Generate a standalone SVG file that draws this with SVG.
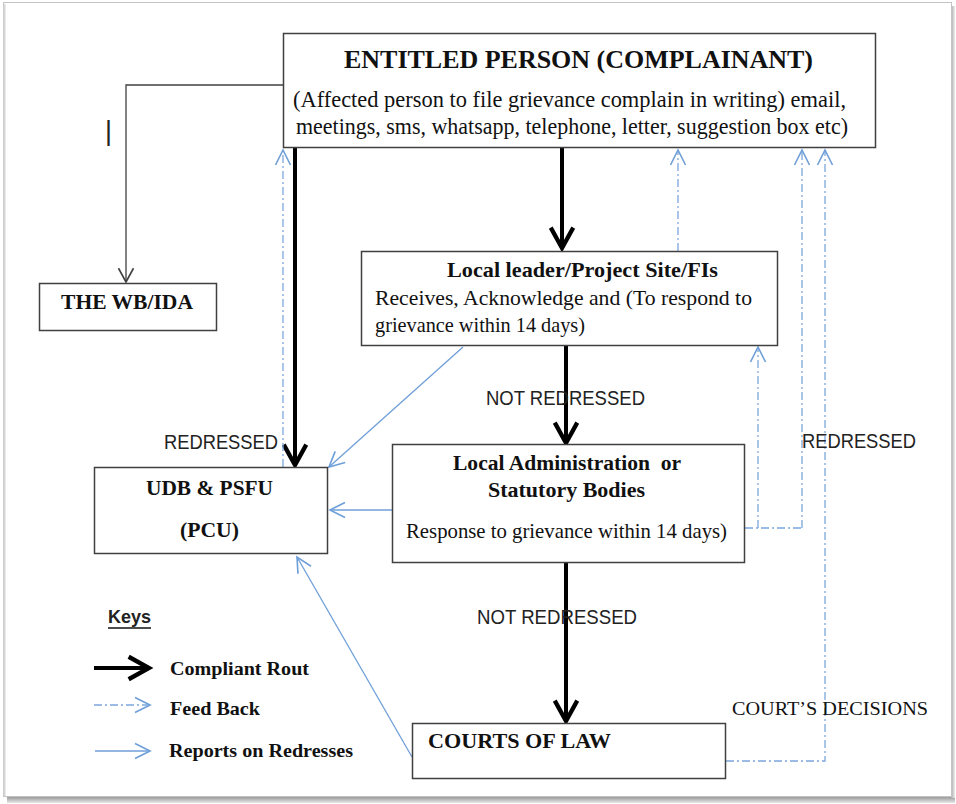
<svg xmlns="http://www.w3.org/2000/svg" width="956" height="804" viewBox="0 0 956 804">
<defs>
<style>
.box{fill:#fff;stroke:#404040;stroke-width:1.5}
.tb{font-family:"Liberation Serif","Times New Roman",serif;font-weight:bold;fill:#111}
.tr{font-family:"Liberation Serif","Times New Roman",serif;fill:#111}
.sa{font-family:"Liberation Sans",Arial,sans-serif;fill:#222}
.thick{fill:none;stroke:#000;stroke-width:4;marker-end:url(#mThick)}
.thin{fill:none;stroke:#404040;stroke-width:1.3;marker-end:url(#mThin)}
.rep{fill:none;stroke:#6f9fd8;stroke-width:1.3;marker-end:url(#mBlue)}
.fb{fill:none;stroke:#7ba7dc;stroke-width:1.3;stroke-dasharray:8 3 2 3}
.fba{marker-end:url(#mBlue)}
</style>
<marker id="mThick" markerUnits="userSpaceOnUse" markerWidth="30" markerHeight="30" viewBox="-22 -14 26 28" refX="0" refY="0" orient="auto">
<path d="M -19 -10.5 L 0 0 L -19 10.5" fill="none" stroke="#000" stroke-width="4" stroke-linejoin="miter"/>
</marker>
<marker id="mThin" markerUnits="userSpaceOnUse" markerWidth="20" markerHeight="20" viewBox="-14 -8 16 16" refX="0" refY="0" orient="auto">
<path d="M -11 -6 L 0 0 L -11 6" fill="none" stroke="#404040" stroke-width="1.3"/>
</marker>
<marker id="mBlue" markerUnits="userSpaceOnUse" markerWidth="20" markerHeight="20" viewBox="-14 -8 16 16" refX="0" refY="0" orient="auto">
<path d="M -12 -6 L 0 0 L -12 6" fill="none" stroke="#6f9fd8" stroke-width="1.3"/>
</marker>
<linearGradient id="shB" x1="0" y1="0" x2="0" y2="1">
<stop offset="0" stop-color="#9a9a9a"/>
<stop offset="1" stop-color="#e8e8e8"/>
</linearGradient>
<linearGradient id="shR" x1="0" y1="0" x2="1" y2="0">
<stop offset="0" stop-color="#a8a8a8"/>
<stop offset="1" stop-color="#eeeeee"/>
</linearGradient>
</defs>
<rect x="0" y="0" width="956" height="804" fill="#fff"/>
<g id="frame">
<rect x="7" y="797" width="948" height="6" fill="url(#shB)"/>
<rect x="951" y="6" width="4" height="792" fill="url(#shR)"/>
<rect x="3.5" y="2.5" width="948" height="794" fill="#fff" stroke="#c4c4c4" stroke-width="1"/>
<line x1="4.5" y1="4" x2="4.5" y2="796" stroke="#d6d6d6" stroke-width="2"/>
</g>

<g id="connectors">
<path class="thin" d="M283,85 H126 V282"/>
<path class="thick" d="M295,148 V465"/>
<path class="fb fba" d="M283,467 V150"/>
<path class="thick" d="M562,148 V248"/>
<path class="fb fba" d="M678,251 V150"/>
<path class="thick" d="M566,346 V443"/>
<path class="rep" d="M463,347 L329,467"/>
<path class="rep" d="M392,510 H330"/>
<path class="fb" d="M745,528 H802"/>
<path class="fb fba" d="M758,528 V347"/>
<path class="fb fba" d="M802,528 V150"/>
<path class="thick" d="M566,563 V721"/>
<path class="fb fba" d="M726,761 H825 V150"/>
<path class="rep" d="M412,757 L297,557"/>
</g>

<g id="entitled-person">
<rect class="box" x="283.5" y="33.5" width="592" height="114"/>
<text class="tb" x="344" y="68" font-size="26" textLength="469" lengthAdjust="spacingAndGlyphs">ENTITLED PERSON (COMPLAINANT)</text>
<text class="tr" x="293" y="107" font-size="23" textLength="553" lengthAdjust="spacingAndGlyphs">(Affected person to file grievance complain in writing) email,</text>
<text class="tr" x="296" y="134" font-size="23" textLength="552" lengthAdjust="spacingAndGlyphs">meetings, sms, whatsapp, telephone, letter, suggestion box etc)</text>
</g>

<g id="bar-mark">
<text class="sa" x="105" y="140" font-size="27" fill="#000">|</text>
</g>

<g id="wb-ida">
<rect class="box" x="39.5" y="283.5" width="177" height="47"/>
<text class="tb" x="61" y="309" font-size="21" textLength="132" lengthAdjust="spacingAndGlyphs">THE WB/IDA</text>
</g>

<g id="local-leader">
<rect class="box" x="361.5" y="251.5" width="416" height="94"/>
<text class="tb" x="447" y="277" font-size="21" textLength="271" lengthAdjust="spacingAndGlyphs">Local leader/Project Site/FIs</text>
<text class="tr" x="375" y="305" font-size="22" textLength="377" lengthAdjust="spacingAndGlyphs">Receives, Acknowledge and (To respond to</text>
<text class="tr" x="375" y="332" font-size="22" textLength="210" lengthAdjust="spacingAndGlyphs">grievance within 14 days)</text>
</g>

<g id="udb-psfu">
<rect class="box" x="94.5" y="467.5" width="233" height="86"/>
<text class="tb" x="146" y="495" font-size="20" textLength="127" lengthAdjust="spacingAndGlyphs">UDB &amp; PSFU</text>
<text class="tb" x="180" y="537" font-size="20" textLength="59" lengthAdjust="spacingAndGlyphs">(PCU)</text>
</g>

<g id="local-admin">
<rect class="box" x="392.5" y="444.5" width="352" height="118"/>
<text class="tb" x="453" y="470" font-size="20" textLength="228" lengthAdjust="spacingAndGlyphs">Local Administration&#160; or</text>
<text class="tb" x="488" y="497" font-size="20" textLength="157" lengthAdjust="spacingAndGlyphs">Statutory Bodies</text>
<text class="tr" x="406" y="538" font-size="21" textLength="321" lengthAdjust="spacingAndGlyphs">Response to grievance within 14 days)</text>
</g>

<g id="courts">
<rect class="box" x="412.5" y="723.5" width="313" height="55"/>
<text class="tb" x="428" y="748" font-size="21" textLength="183" lengthAdjust="spacingAndGlyphs">COURTS OF LAW</text>
</g>

<g id="labels">
<text class="sa" x="486" y="405" font-size="20" textLength="159" lengthAdjust="spacingAndGlyphs">NOT REDRESSED</text>
<text class="sa" x="477" y="624" font-size="20" textLength="160" lengthAdjust="spacingAndGlyphs">NOT REDRESSED</text>
<text class="sa" x="164" y="449" font-size="20" textLength="114" lengthAdjust="spacingAndGlyphs">REDRESSED</text>
<text class="sa" x="802" y="448" font-size="20" textLength="114" lengthAdjust="spacingAndGlyphs">REDRESSED</text>
<text class="tr" x="732" y="715" font-size="19" textLength="196" lengthAdjust="spacingAndGlyphs">COURT’S DECISIONS</text>
</g>

<g id="keys">
<text class="sa" x="108" y="623" font-size="18" font-weight="bold" fill="#111" textLength="43" lengthAdjust="spacingAndGlyphs">Keys</text>
<line x1="108" y1="628" x2="151" y2="628" stroke="#111" stroke-width="1.5"/>
<path class="thick" d="M94,668 H149"/>
<text class="tb" x="170" y="675" font-size="19" textLength="139" lengthAdjust="spacingAndGlyphs">Compliant Rout</text>
<path class="fb fba" d="M94,705 H150"/>
<text class="tb" x="170" y="715" font-size="19" textLength="90" lengthAdjust="spacingAndGlyphs">Feed Back</text>
<path class="rep" d="M95,751 H150"/>
<text class="tb" x="169" y="757" font-size="19" textLength="184" lengthAdjust="spacingAndGlyphs">Reports on Redresses</text>
</g>
</svg>
